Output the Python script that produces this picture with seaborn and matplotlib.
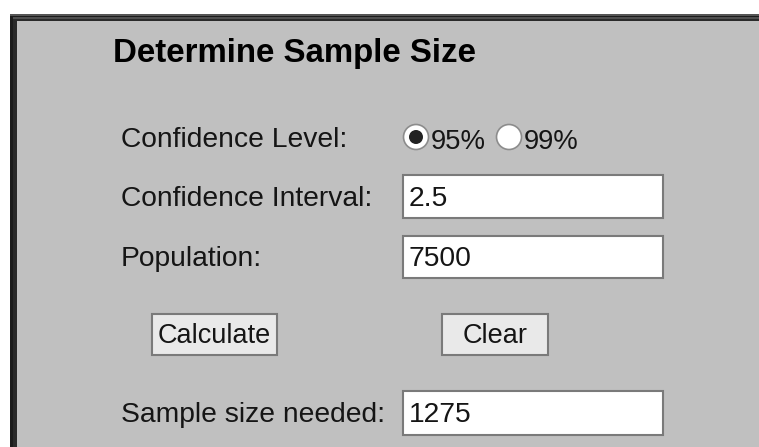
import matplotlib.pyplot as plt
import seaborn as sns
from matplotlib.patches import Rectangle, Circle

# Textos e valores do formulario
titulo = "Determine Sample Size"
rotulos = ["Confidence Level:", "Confidence Interval:", "Population:", "Sample size needed:"]
opcoes_confianca = ["95%", "99%"]
opcao_marcada = "95%"
valores_campos = ["2.5", "7500"]
botoes = ["Calculate", "Clear"]
resultado = "1275"

# Posicoes (pixels) de cada linha do formulario
linhas_base = [147, 206, 266, 422]
caixas_y = [(175, 218), (236, 278)]
caixa_res_y = (391, 435)
caixa_x = (402.5, 663)
radio_x = [416, 509]
radio_y = 137
botoes_x = [(152, 277), (442, 548)]
botoes_y = (314, 355)

sns.set_theme(style="white")
plt.rcParams["font.family"] = ["Liberation Sans", "DejaVu Sans"]

fig = plt.figure(figsize=(7.59, 4.47), dpi=100)
ax = fig.add_axes([0, 0, 1, 1])
ax.set_xlim(0, 759)
ax.set_ylim(447, 0)
ax.axis("off")
fig.patch.set_facecolor("white")

# Moldura escura e fundo cinza do painel
ax.add_patch(Rectangle((10, 14), 760, 440, facecolor="#1c1c1c", edgecolor="none"))
ax.add_patch(Rectangle((10, 14), 760, 2, facecolor="#555555", edgecolor="none"))
ax.add_patch(Rectangle((13, 17), 760, 440, facecolor="#4f4f4f", edgecolor="none"))
ax.add_patch(Rectangle((13, 19), 760, 440, facecolor="#2a2a2a", edgecolor="none"))
ax.add_patch(Rectangle((17, 21), 760, 440, facecolor="#c0c0c0", edgecolor="none"))

cor_texto = "#151515"
tam = 20.3

# Titulo
ax.text(113, 62, titulo, fontsize=23.8, fontweight="bold", color="black", va="baseline")

# Rotulos da esquerda
for rot, yb in zip(rotulos, linhas_base):
    ax.text(121, yb, rot, fontsize=tam, color=cor_texto, va="baseline")

# Botoes de radio
for op, cx in zip(opcoes_confianca, radio_x):
    ax.add_patch(Circle((cx, radio_y), 12.5, facecolor="white", edgecolor="#8c8c8c", lw=1.2))
    if op == opcao_marcada:
        ax.add_patch(Circle((cx, radio_y), 7, facecolor="#222222", edgecolor="none"))
    ax.text(cx + 14.5, 149, op, fontsize=19.8, color=cor_texto, va="baseline")

# Campos de texto
for val, (y0, y1), yb in zip(valores_campos, caixas_y, linhas_base[1:3]):
    ax.add_patch(Rectangle((caixa_x[0], y0), caixa_x[1] - caixa_x[0], y1 - y0,
                           facecolor="white", edgecolor="#7a7a7a", lw=1.5))
    ax.text(409, yb, val, fontsize=tam, color=cor_texto, va="baseline")

# Botoes Calculate / Clear
for nome, (x0, x1) in zip(botoes, botoes_x):
    ax.add_patch(Rectangle((x0, botoes_y[0]), x1 - x0, botoes_y[1] - botoes_y[0],
                           facecolor="#e9e9e9", edgecolor="#7a7a7a", lw=1.5))
    ax.text((x0 + x1) / 2, 343, nome, fontsize=19.5, color=cor_texto,
            va="baseline", ha="center")

# Campo do resultado
ax.add_patch(Rectangle((caixa_x[0], caixa_res_y[0]), caixa_x[1] - caixa_x[0],
                       caixa_res_y[1] - caixa_res_y[0],
                       facecolor="white", edgecolor="#7a7a7a", lw=1.5))
ax.text(409, linhas_base[3], resultado, fontsize=tam, color=cor_texto, va="baseline")

fig.savefig("out.png", dpi=100)
